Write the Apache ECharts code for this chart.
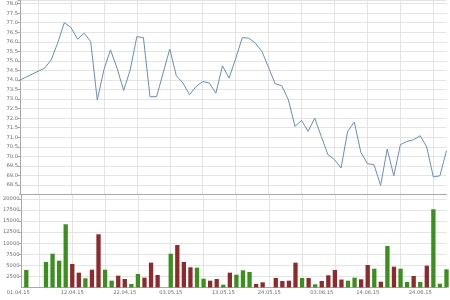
<!DOCTYPE html>
<html><head><meta charset="utf-8">
<script src="https://cdn.jsdelivr.net/npm/echarts@6/dist/echarts.min.js"></script>
<style>html,body{margin:0;padding:0;background:#fff}#c{width:450px;height:300px}</style>
</head><body><div id="c"></div>
<script>
// trading days (first entry only carries the line into the left edge)
const dates = ['31.03.15',
'01.04.15','02.04.15','03.04.15','06.04.15','07.04.15','08.04.15','09.04.15','10.04.15','13.04.15','14.04.15','15.04.15','16.04.15','17.04.15','20.04.15','21.04.15','22.04.15','23.04.15','24.04.15','27.04.15','28.04.15','29.04.15','30.04.15',
'01.05.15','04.05.15','05.05.15','06.05.15','07.05.15','08.05.15','11.05.15','12.05.15','13.05.15','14.05.15','15.05.15','18.05.15','19.05.15','20.05.15','21.05.15','22.05.15','25.05.15','26.05.15','27.05.15','28.05.15','29.05.15',
'01.06.15','02.06.15','03.06.15','04.06.15','05.06.15','08.06.15','09.06.15','10.06.15','11.06.15','12.06.15','15.06.15','16.06.15','17.06.15','18.06.15','19.06.15','22.06.15','23.06.15','24.06.15','25.06.15','26.06.15','29.06.15','30.06.15'];

const price = [73.95,
74.12,null,null,74.62,75.05,75.95,77.00,76.75,76.14,76.45,76.01,72.95,74.53,75.58,74.62,73.45,74.53,76.27,76.22,73.12,73.13,null,
75.62,74.22,73.84,73.23,73.66,73.92,73.84,73.31,74.74,74.10,75.11,76.22,76.19,75.93,75.49,null,73.80,73.70,72.96,71.57,71.88,
71.31,72.00,71.04,70.09,69.83,69.39,71.31,71.80,70.21,69.62,69.56,68.48,70.38,68.98,70.61,70.78,70.87,71.08,70.49,68.92,68.98,70.30];

const volume = [null,
3940,null,null,5750,7620,6040,14270,5290,3330,2060,4000,12010,4000,1520,2650,1900,770,3030,2200,5590,2800,null,
7620,9590,5750,4550,4460,1970,1520,1900,610,3330,2870,3870,3480,770,1150,null,2130,1450,1520,5590,2130,
2130,700,1450,2740,3940,1780,1520,2200,1830,5070,4230,1290,9360,4680,4230,1220,2580,1220,4910,17670,840,4090];

// u = green (up), d = red (down)
const direction = ['',
'u','','','u','u','u','u','d','d','u','d','d','u','u','d','d','u','u','d','d','d','',
'u','d','d','d','u','u','d','d','u','d','u','u','u','d','d','','d','d','d','d','u',
'd','u','d','d','d','d','u','u','d','d','u','d','u','d','u','u','d','u','d','u','u','u'];

const tickDates = ['01.04.15','10.04.15','22.04.15','01.05.15','13.05.15','22.05.15','03.06.15','12.06.15','24.06.15'];
const tickLabels = ['01.04.15','12.04.15','22.04.15','03.05.15','13.05.15','24.05.15','03.06.15','14.06.15','24.06.15'];

const tickIdx = tickDates.map(d => dates.indexOf(d));
const labelOf = {};
tickIdx.forEach((i, k) => labelOf[i] = tickLabels[k]);
const gridIdx = [];
for (let i = 3; i < dates.length; i += 5) gridIdx.push(i);

const GREEN = '#3b8f1d', RED = '#8f2a2c';
const font = {fontFamily: 'DejaVu Sans', fontSize: 5.2, color: '#6f6f6f'};
const gridLine = {show: true, lineStyle: {color: '#e4e4e4', width: 1}};
const axisLine = {show: true, lineStyle: {color: '#a8a8a8', width: 1}};
const xMin = 0.27, xMax = dates.length - 1;

const chart = echarts.init(document.getElementById('c'), null, {renderer: 'canvas'});
chart.setOption({
  animation: false,
  backgroundColor: '#ffffff',
  grid: [
    {left: 20, right: 3.5, top: 0, height: 194.5},
    {left: 20, right: 3.5, top: 194.5, height: 92.9}
  ],
  xAxis: [
    {type: 'value', gridIndex: 0, min: xMin, max: xMax,
     axisLine: axisLine, axisTick: {show: false, customValues: gridIdx},
     axisLabel: {show: false}, splitLine: gridLine},
    {type: 'value', gridIndex: 1, min: xMin, max: xMax,
     axisLine: axisLine, axisTick: {show: false, customValues: gridIdx},
     splitLine: gridLine,
     axisLabel: Object.assign({}, font, {
       customValues: tickIdx, margin: 3,
       formatter: v => v === tickIdx[0] ? '{f|' + labelOf[v] + '}' : (labelOf[v] || ''),
       rich: {f: Object.assign({}, font, {padding: [0, 16, 0, 0]})}
     })}
  ],
  yAxis: [
    {type: 'value', gridIndex: 0, min: 68, max: 78.19, interval: 0.5,
     axisLine: axisLine, axisTick: {show: true, length: 2.5, lineStyle: {color: '#a8a8a8'}},
     splitLine: gridLine,
     axisLabel: Object.assign({}, font, {margin: 2, showMinLabel: false,
       formatter: v => Math.abs(v * 2 - Math.round(v * 2)) < 1e-6 ? v.toFixed(1) : ''})},
    {type: 'value', gridIndex: 1, min: 0, max: 21000, interval: 2500,
     axisLine: axisLine, axisTick: {show: true, length: 2.5, lineStyle: {color: '#a8a8a8'}},
     splitLine: gridLine,
     axisLabel: Object.assign({}, font, {margin: 2, showMinLabel: false,
       formatter: v => (v % 2500 === 0 && v > 0) ? String(v) : ''})}
  ],
  series: [
    {type: 'line', xAxisIndex: 0, yAxisIndex: 0, symbol: 'none', connectNulls: true,
     lineStyle: {color: '#6a8fba', width: 1},
     data: price.map((v, i) => [i, v])},
    {type: 'bar', xAxisIndex: 1, yAxisIndex: 1, barWidth: 4.3,
     data: volume.map((v, i) => ({value: [i, v], itemStyle: {color: direction[i] === 'u' ? GREEN : RED}}))}
  ]
});
</script></body></html>
